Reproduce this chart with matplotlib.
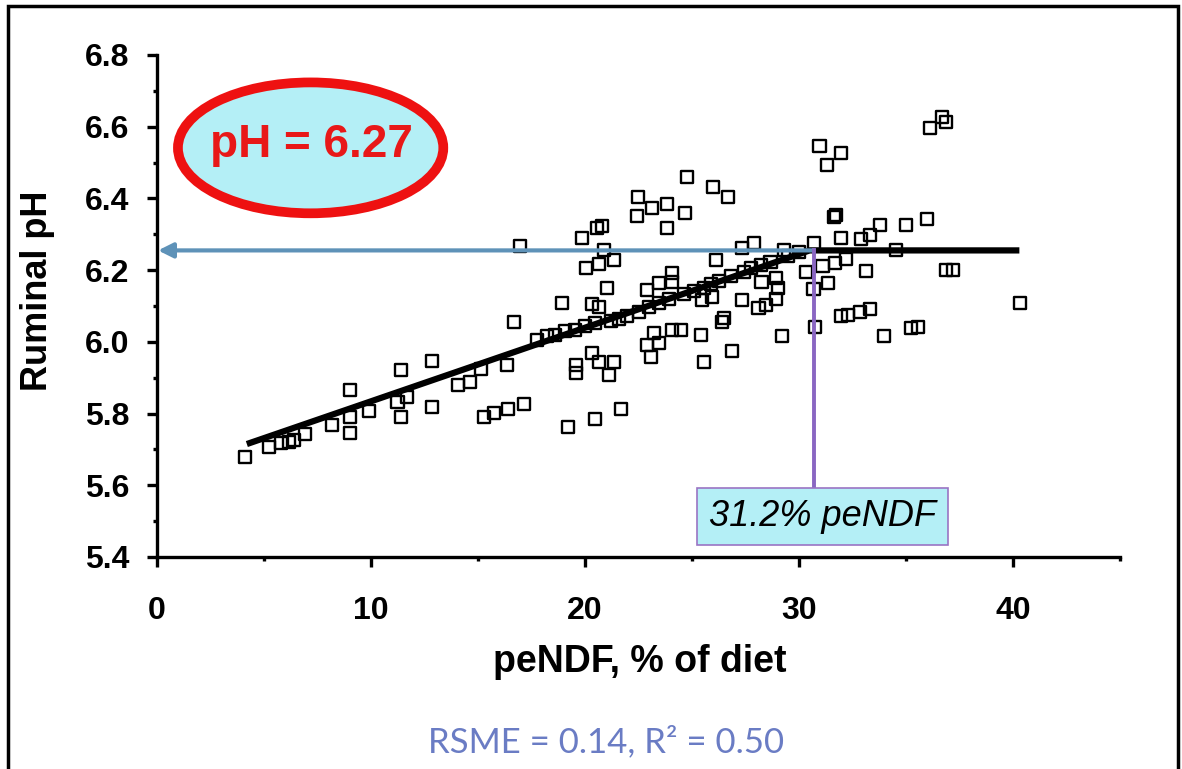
import matplotlib
matplotlib.use("Agg")
import matplotlib.pyplot as plt
from matplotlib.patches import Ellipse, Rectangle

plt.rcParams["font.family"] = ["Liberation Sans", "DejaVu Sans"]

# data
pendf = [
    4.10, 5.22, 5.78, 6.15, 6.39, 6.90, 8.16, 9.00, 9.00, 9.04,
    9.93, 11.42, 11.42, 11.24, 11.70, 12.87, 12.87, 14.08, 14.64, 15.15,
    15.29, 15.76, 16.41, 17.16, 19.21, 20.47, 21.68, 16.69, 16.97, 16.36,
    19.58, 19.58, 20.33, 20.65, 21.35, 21.12, 18.93, 20.33, 20.65, 21.03,
    20.05, 20.65, 21.35, 20.89, 19.86, 20.56, 20.79, 22.47, 23.12, 23.82,
    22.42, 24.66, 23.82, 24.76, 25.97, 26.67, 24.06, 24.06, 23.45, 22.89,
    25.45, 25.92, 27.32, 28.11, 28.44, 28.95, 29.04, 28.95, 28.25, 26.48,
    26.39, 25.41, 26.85, 25.55, 29.23, 23.22, 23.45, 24.06, 24.48, 23.08,
    22.89, 27.32, 27.88, 26.11, 29.28, 30.96, 31.98, 31.33, 36.69, 36.88,
    36.13, 31.66, 31.75, 35.99, 35.01, 33.80, 33.33, 32.91, 31.98, 30.72,
    34.55, 30.35, 31.10, 31.70, 32.21, 33.15, 31.38, 30.68, 36.88, 37.20,
    40.33, 31.98, 32.31, 32.87, 33.33, 30.77, 33.99, 35.24, 35.57,
    17.76, 18.23, 18.60, 19.07, 19.53, 20.00, 20.47, 21.21, 21.59, 21.96,
    22.52, 22.98, 23.45, 23.92, 24.62, 25.08, 25.55, 25.87, 26.25, 26.81,
    27.41, 27.74, 28.21, 28.67, 29.51, 29.98,
]
ph = [
    5.679, 5.707, 5.718, 5.721, 5.726, 5.743, 5.768, 5.746, 5.790, 5.866,
    5.807, 5.921, 5.790, 5.832, 5.846, 5.946, 5.818, 5.880, 5.888, 5.924,
    5.790, 5.801, 5.813, 5.826, 5.762, 5.785, 5.813, 6.055, 6.267, 5.935,
    5.935, 5.913, 5.969, 5.944, 5.944, 5.907, 6.108, 6.105, 6.097, 6.150,
    6.206, 6.217, 6.228, 6.256, 6.290, 6.317, 6.323, 6.404, 6.373, 6.384,
    6.351, 6.359, 6.317, 6.460, 6.432, 6.404, 6.192, 6.167, 6.164, 6.145,
    6.117, 6.125, 6.117, 6.094, 6.103, 6.178, 6.150, 6.119, 6.167, 6.066,
    6.055, 6.019, 5.974, 5.944, 6.016, 6.025, 5.997, 6.033, 6.033, 5.958,
    5.991, 6.262, 6.276, 6.228, 6.256, 6.546, 6.527, 6.493, 6.627, 6.613,
    6.596, 6.348, 6.354, 6.343, 6.326, 6.326, 6.298, 6.287, 6.290, 6.276,
    6.256, 6.195, 6.211, 6.220, 6.231, 6.197, 6.164, 6.147, 6.200, 6.200,
    6.108, 6.072, 6.075, 6.083, 6.092, 6.041, 6.016, 6.038, 6.041,
    6.005, 6.016, 6.019, 6.030, 6.033, 6.044, 6.052, 6.058, 6.064, 6.072,
    6.083, 6.097, 6.108, 6.119, 6.133, 6.142, 6.150, 6.161, 6.170, 6.184,
    6.195, 6.206, 6.214, 6.223, 6.239, 6.250,
]

# broken-line fit
fit_x = [4.2, 30.5, 40.3]
fit_y = [5.715, 6.255, 6.255]

target_ph = 6.255
target_pendf = 30.7

x_ticks = [0, 10, 20, 30, 40]
x_minor = [5, 15, 25, 35, 45]
y_ticks = [5.4, 5.6, 5.8, 6.0, 6.2, 6.4, 6.6, 6.8]
y_minor = [5.5, 5.7, 5.9, 6.1, 6.3, 6.5, 6.7]

CYAN = "#b4eff6"
ARROW = "#5e92b8"
VLINE = "#8a66c2"

fig = plt.figure(figsize=(11.82, 7.69), dpi=100, facecolor="white")
ax = fig.add_axes([0.1328, 0.2757, 0.8147, 0.6528])

ax.scatter(pendf, ph, marker="s", s=75, facecolors="none",
           edgecolors="black", linewidths=1.7, zorder=2)
ax.plot(fit_x, fit_y, color="black", lw=4.5, solid_capstyle="butt", zorder=3)

# horizontal arrow to the y axis and drop line to the box
ax.annotate("", xy=(0.05, target_ph), xytext=(target_pendf, target_ph),
            arrowprops=dict(arrowstyle="-|>", color=ARROW, lw=3,
                            mutation_scale=22, shrinkA=0, shrinkB=0),
            zorder=5)
ax.plot([target_pendf, target_pendf], [target_ph, 5.592], color=VLINE,
        lw=2.8, zorder=5)

ax.add_patch(Rectangle((25.22, 5.433), 11.75, 0.159, facecolor=CYAN,
                       edgecolor="#9a74c4", lw=1.2, zorder=6))
ax.text(31.1, 5.514, "31.2% peNDF", ha="center", va="center",
        fontsize=26, style="italic", zorder=7)

ax.add_patch(Ellipse((7.18, 6.541), 12.4, 0.365, facecolor=CYAN,
                     edgecolor="#ee1111", lw=7, zorder=6, clip_on=False))
ax.text(7.2, 6.55, "pH = 6.27", ha="center", va="center", fontsize=33,
        fontweight="bold", color="#e81818", zorder=7)

ax.set_xlim(0, 45)
ax.set_ylim(5.4, 6.8)
ax.set_xticks(x_ticks)
ax.set_xticks(x_minor, minor=True)
ax.set_yticks(y_ticks)
ax.set_yticks(y_minor, minor=True)
ax.set_yticklabels([f"{v:.1f}" for v in y_ticks])
ax.spines[["top", "right"]].set_visible(False)
ax.spines[["left", "bottom"]].set_linewidth(2.4)
ax.tick_params(which="major", length=7, width=2.4, labelsize=23)
ax.tick_params(which="minor", length=3, width=2.4)
ax.tick_params(axis="x", which="major", pad=21)
ax.tick_params(axis="y", which="major", pad=13)
for lbl in ax.get_xticklabels() + ax.get_yticklabels():
    lbl.set_fontweight("bold")

fig.text(0.5415, 1 - 662 / 769, "peNDF, % of diet", ha="center", va="center",
         fontsize=27, fontweight="bold")
fig.text(38 / 1182, 1 - 291 / 769, "Ruminal pH", ha="center", va="center",
         rotation=90, fontsize=26, fontweight="bold")
fig.text(0.513, 1 - 742 / 769, "RSME = 0.14, R² = 0.50", ha="center",
         va="center", fontsize=25, color="#6a7cc4", family=["Lato", "DejaVu Sans"])

# frame round the whole picture
fig.add_artist(Rectangle((8 / 1182, -0.02), 1170 / 1182, 1 - 6 / 769 + 0.02,
                         transform=fig.transFigure, fill=False,
                         edgecolor="black", lw=2.5))

fig.savefig("out.png", dpi=100, facecolor="white")
